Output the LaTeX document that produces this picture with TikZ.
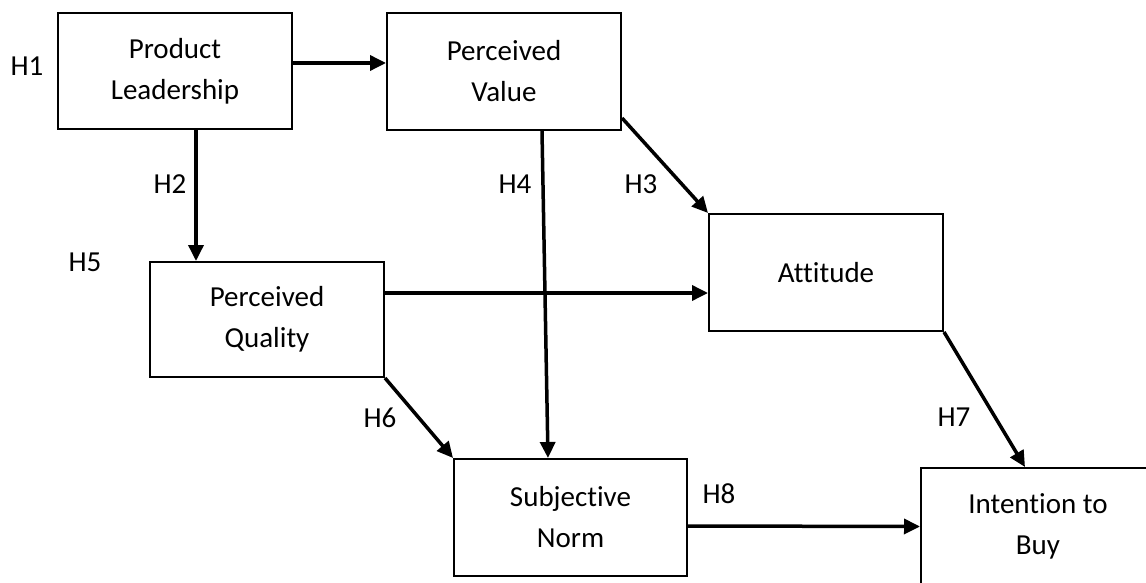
\documentclass[tikz,border=0pt]{standalone}
\usepackage{fontspec}
\setmainfont[Ligatures={NoCommon}]{Carlito}
\usetikzlibrary{arrows.meta,calc}
\begin{document}
\begin{tikzpicture}[x=1pt,y=-1pt,
  box/.style={draw,line width=2pt,inner sep=0pt,align=center,font=\fontsize{29}{41}\selectfont},
  lab/.style={inner sep=0pt,font=\fontsize{29}{34}\selectfont},
  conn/.style={line width=3.5pt,-{Triangle[length=16pt,width=15pt]}}]
\useasboundingbox (0,0) rectangle (1146,583);
\clip (0,0) rectangle (1146,583);
\node[box,minimum width=234pt,minimum height=116pt] (pl) at (175,71) {Product\\Leadership};
\node[box,minimum width=234pt,minimum height=117pt] (pv) at (504,71.5) {Perceived\\Value};
\node[box,minimum width=234pt,minimum height=117pt] (att) at (826,272.5) {Attitude};
\node[box,minimum width=234pt,minimum height=115pt] (pq) at (267,319.5) {Perceived\\Quality};
\node[box,minimum width=233pt,minimum height=117pt] (sn) at (570.5,517.5) {Subjective\\Norm};
\node[box,minimum width=234pt,minimum height=116pt] (itb) at (1038,526) {Intention to\\Buy};
\node[lab] (h1) at (27,66) {H1};
\node[lab] (h2) at (170,184) {H2};
\node[lab] (h3) at (641,184) {H3};
\node[lab] (h4) at (515,184) {H4};
\node[lab] (h5) at (85,262) {H5};
\node[lab] (h6) at (380,418) {H6};
\node[lab] (h7) at (954,417) {H7};
\node[lab] (h8) at (719,494) {H8};
\draw[conn] ($(pl.east)+(0,-8)$) -- ($(pv.west)+(0,-8.5)$);
\draw[conn] ($(pl.south)+(21,0)$) -- ($(pq.north)+(-71,0)$);
\draw[conn] ($(pv.south)+(38,0)$) -- ($(sn.north)+(-22.5,0)$);
\draw[conn] ($(pv.south east)+(0,-13)$) -- (att.north west);
\draw[conn] ($(pq.east)+(0,-26.5)$) -- ($(att.west)+(0,20.5)$);
\draw[conn] (pq.south east) -- (sn.north west);
\draw[conn] (att.south east) -- ($(itb.north)+(-13,0)$);
\draw[conn] ($(sn.east)+(0,8.5)$) -- ($(itb.west)+(0,0.5)$);
\end{tikzpicture}
\end{document}
